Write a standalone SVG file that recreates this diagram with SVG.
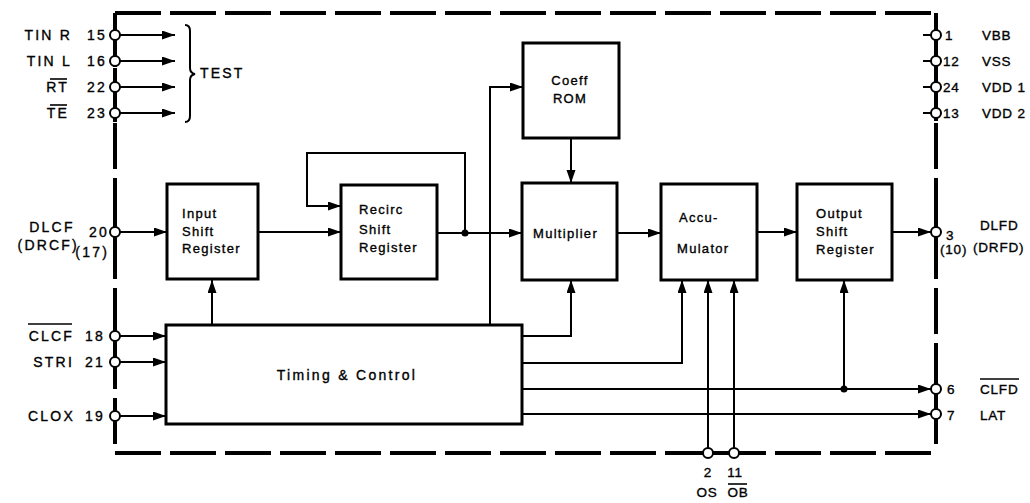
<svg xmlns="http://www.w3.org/2000/svg" width="1030" height="503" viewBox="0 0 1030 503">
<defs>
<marker id="ah" markerUnits="userSpaceOnUse" markerWidth="14" markerHeight="10" refX="13" refY="4.5" orient="auto">
<path d="M0,0 L13,4.5 L0,9 z" fill="#000"/>
</marker>
<style>
.border{fill:none;stroke:#000;stroke-width:4;stroke-dasharray:46 9}
.solid{fill:none;stroke:#000;stroke-width:4}
.box{fill:#fff;stroke:#000;stroke-width:3}
.wire{fill:none;stroke:#000;stroke-width:2}
.arr{fill:none;stroke:#000;stroke-width:2;marker-end:url(#ah)}
.pin{fill:#fff;stroke:#000;stroke-width:2}
.dot{fill:#000}
.ov{stroke:#000;stroke-width:1.6}
text{font-family:"Liberation Sans",Arial,sans-serif;fill:#000;stroke:#000;stroke-width:0.35}
.lbl{font-size:14px;letter-spacing:2.2px}
.rl{font-size:13.5px;letter-spacing:0.8px}
.blk{font-size:13px;letter-spacing:1.3px}
.big{font-size:14px;letter-spacing:2.3px}
</style>
</defs>
<rect width="1030" height="503" fill="#fff"/>

<g id="border">
<path class="border" d="M115,13 H936"/>
<path class="border" d="M936,13 V453"/>
<path class="border" d="M115,453 H936"/>
<path class="border" d="M115,13 V453"/>
<line class="solid" x1="692" y1="453" x2="748" y2="453"/>
<line class="solid" x1="115" y1="26" x2="115" y2="67"/>
<line class="solid" x1="115" y1="78" x2="115" y2="122"/>
<line class="solid" x1="115" y1="222" x2="115" y2="268"/>
<line class="solid" x1="115" y1="324" x2="115" y2="376"/>
<line class="solid" x1="115" y1="400" x2="115" y2="425"/>
<line class="solid" x1="936" y1="27" x2="936" y2="121"/>
<line class="solid" x1="936" y1="217" x2="936" y2="247"/>
<line class="solid" x1="936" y1="377" x2="936" y2="424"/>
</g>

<g id="connectors">
<line class="arr" x1="120" y1="35" x2="175" y2="35"/>
<line class="arr" x1="120" y1="61" x2="175" y2="61"/>
<line class="arr" x1="120" y1="87" x2="175" y2="87"/>
<line class="arr" x1="120" y1="113" x2="175" y2="113"/>
<line class="arr" x1="120" y1="232" x2="167" y2="232"/>
<line class="arr" x1="258" y1="232" x2="341" y2="232"/>
<line class="arr" x1="437" y1="233" x2="522" y2="233"/>
<path class="arr" d="M465,233 V153 H307 V206 H341"/>
<circle class="dot" cx="465" cy="233" r="3.5"/>
<path class="arr" d="M490,325 V87 H523"/>
<line class="arr" x1="571" y1="138" x2="571" y2="183"/>
<line class="arr" x1="212" y1="325" x2="212" y2="280"/>
<line class="arr" x1="617" y1="233" x2="661" y2="233"/>
<line class="arr" x1="757" y1="232" x2="797" y2="232"/>
<line class="arr" x1="892" y1="232" x2="931" y2="232"/>
<path class="arr" d="M522,336 H571 V280"/>
<path class="arr" d="M522,363 H682 V280"/>
<line class="arr" x1="522" y1="389" x2="931" y2="389"/>
<circle class="dot" cx="844" cy="389" r="3.5"/>
<line class="arr" x1="844" y1="389" x2="844" y2="280"/>
<line class="arr" x1="522" y1="414" x2="931" y2="414"/>
<line class="arr" x1="708" y1="448" x2="708" y2="280"/>
<line class="arr" x1="734" y1="448" x2="734" y2="280"/>
<line class="arr" x1="119" y1="336" x2="166" y2="336"/>
<line class="arr" x1="119" y1="362" x2="166" y2="362"/>
<line class="arr" x1="119" y1="416" x2="166" y2="416"/>
<line class="wire" x1="923" y1="35" x2="931" y2="35"/>
<line class="wire" x1="923" y1="61" x2="931" y2="61"/>
<line class="wire" x1="923" y1="87" x2="931" y2="87"/>
<line class="wire" x1="923" y1="113" x2="931" y2="113"/>
</g>

<g id="test-brace">
<path class="wire" d="M185,25 Q190,25 190,31 V68 Q190,73 195,74 Q190,75 190,80 V116 Q190,122 185,122"/>
<text class="lbl" x="200" y="78" letter-spacing="1">TEST</text>
</g>

<g id="input-shift-register">
<rect class="box" x="167" y="184" width="91" height="95"/>
<text class="blk" x="182" y="218">Input</text>
<text class="blk" x="182" y="236">Shift</text>
<text class="blk" x="182" y="253">Register</text>
</g>

<g id="recirc-shift-register">
<rect class="box" x="341" y="185" width="96" height="94"/>
<text class="blk" x="359" y="214">Recirc</text>
<text class="blk" x="359" y="234">Shift</text>
<text class="blk" x="359" y="252">Register</text>
</g>

<g id="coeff-rom">
<rect class="box" x="523" y="43" width="96" height="95"/>
<text class="blk" x="570" y="85" text-anchor="middle">Coeff</text>
<text class="blk" x="570" y="103" text-anchor="middle">ROM</text>
</g>

<g id="multiplier">
<rect class="box" x="522" y="183" width="95" height="97"/>
<text class="blk" x="533" y="238">Multiplier</text>
</g>

<g id="accumulator">
<rect class="box" x="661" y="184" width="96" height="96"/>
<text class="blk" x="679" y="222">Accu-</text>
<text class="blk" x="677" y="253">Mulator</text>
</g>

<g id="output-shift-register">
<rect class="box" x="797" y="184" width="95" height="96"/>
<text class="blk" x="816" y="218">Output</text>
<text class="blk" x="816" y="236">Shift</text>
<text class="blk" x="816" y="254">Register</text>
</g>

<g id="timing-control">
<rect class="box" x="166" y="325" width="356" height="99"/>
<text class="big" x="347" y="380" text-anchor="middle">Timing &amp; Control</text>
</g>

<g id="pins-left">
<circle class="pin" cx="115" cy="35" r="5"/>
<circle class="pin" cx="115" cy="61" r="5"/>
<circle class="pin" cx="115" cy="87" r="5"/>
<circle class="pin" cx="115" cy="113" r="5"/>
<circle class="pin" cx="115" cy="232" r="5"/>
<circle class="pin" cx="115" cy="336" r="5"/>
<circle class="pin" cx="115" cy="362" r="5"/>
<circle class="pin" cx="115" cy="416" r="5"/>
<text class="lbl" x="72" y="40" text-anchor="end">TIN R</text>
<text class="lbl" x="107" y="40" text-anchor="end">15</text>
<text class="lbl" x="72" y="66" text-anchor="end">TIN L</text>
<text class="lbl" x="107" y="66" text-anchor="end">16</text>
<text class="lbl" x="69" y="92" text-anchor="end">RT</text>
<line class="ov" x1="50" y1="79" x2="67" y2="79"/>
<text class="lbl" x="107" y="92" text-anchor="end">22</text>
<text class="lbl" x="69" y="118" text-anchor="end">TE</text>
<line class="ov" x1="50" y1="105" x2="67" y2="105"/>
<text class="lbl" x="107" y="118" text-anchor="end">23</text>
<text class="lbl" x="52" y="232" text-anchor="middle" letter-spacing="1.5">DLCF</text>
<text class="lbl" x="79" y="250" text-anchor="end" font-size="13.5" letter-spacing="0.4">(DRCF)</text>
<text class="lbl" x="109" y="237" text-anchor="end">20</text>
<text class="lbl" x="109" y="257" text-anchor="end" letter-spacing="0.6">(17)</text>
<text class="lbl" x="74" y="341" text-anchor="end">CLCF</text>
<line class="ov" x1="28" y1="324" x2="72" y2="324"/>
<text class="lbl" x="105" y="341" text-anchor="end">18</text>
<text class="lbl" x="74" y="367" text-anchor="end">STRI</text>
<text class="lbl" x="105" y="367" text-anchor="end">21</text>
<text class="lbl" x="75" y="421" text-anchor="end">CLOX</text>
<text class="lbl" x="105" y="421" text-anchor="end">19</text>
</g>

<g id="pins-right">
<circle class="pin" cx="936" cy="35" r="5"/>
<circle class="pin" cx="936" cy="61" r="5"/>
<circle class="pin" cx="936" cy="87" r="5"/>
<circle class="pin" cx="936" cy="113" r="5"/>
<circle class="pin" cx="936" cy="232" r="5"/>
<circle class="pin" cx="936" cy="389" r="5"/>
<circle class="pin" cx="936" cy="414" r="5"/>
<text class="rl" x="945" y="40">1</text>
<text class="rl" x="982" y="40">VBB</text>
<text class="rl" x="943" y="66">12</text>
<text class="rl" x="982" y="66">VSS</text>
<text class="rl" x="943" y="92">24</text>
<text class="rl" x="982" y="92">VDD 1</text>
<text class="rl" x="943" y="118">13</text>
<text class="rl" x="982" y="118">VDD 2</text>
<text class="rl" x="946" y="240">3</text>
<text class="rl" x="940" y="254">(10)</text>
<text class="rl" x="980" y="230">DLFD</text>
<text class="rl" x="973" y="252">(DRFD)</text>
<text class="rl" x="947" y="394">6</text>
<text class="rl" x="980" y="394">CLFD</text>
<line class="ov" x1="980" y1="379" x2="1019" y2="379"/>
<text class="rl" x="947" y="420">7</text>
<text class="rl" x="980" y="420">LAT</text>
</g>

<g id="pins-bottom">
<circle class="pin" cx="708" cy="453" r="5"/>
<circle class="pin" cx="734" cy="453" r="5"/>
<text class="rl" x="708" y="477" text-anchor="middle">2</text>
<text class="rl" x="735" y="477" text-anchor="middle">11</text>
<text class="rl" x="707" y="497" text-anchor="middle">OS</text>
<text class="rl" x="738" y="497" text-anchor="middle">OB</text>
<line class="ov" x1="728" y1="484" x2="747" y2="484"/>
</g>
</svg>
